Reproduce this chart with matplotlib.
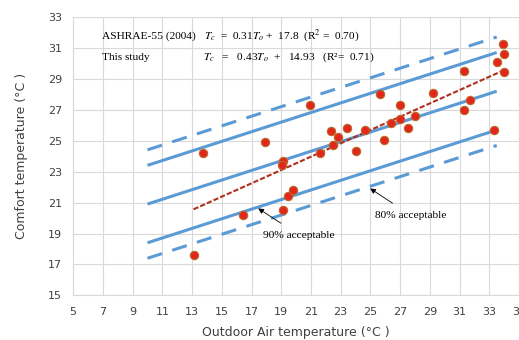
import numpy as np
import matplotlib
matplotlib.use("Agg")
import matplotlib.pyplot as plt

# observed points (outdoor air temp, comfort temp)
t_out = [13.13, 13.75, 16.40, 17.93, 19.10, 19.05, 19.12, 19.43, 19.81, 20.94,
         21.63, 22.33, 22.51, 22.82, 23.41, 24.01, 24.62, 25.63, 25.90, 26.41,
         27.02, 27.02, 27.51, 28.03, 29.24, 31.33, 31.33, 31.73, 33.33, 33.51,
         33.93, 34.02, 34.02]
t_comf = [17.58, 24.19, 20.19, 24.90, 23.70, 23.40, 20.49, 21.39, 21.78, 27.29,
          24.19, 25.59, 24.69, 25.20, 25.79, 24.30, 25.70, 28.00, 25.01, 26.11,
          26.41, 27.29, 25.79, 26.60, 28.09, 29.51, 26.99, 27.60, 25.70, 30.09,
          31.21, 30.59, 29.40]

# ASHRAE-55 adaptive model and bands
ash_slope, ash_icpt = 0.31, 17.8
ash_range = [10.0, 33.5]
band90 = 2.5
band80 = 3.5

# this study's regression
fit_slope, fit_icpt = 0.43, 14.93
fit_range = [13.1, 34.0]

x_ticks = list(range(5, 36, 2))
y_ticks = list(range(15, 34, 2))

fig = plt.figure(figsize=(5.19, 3.40), dpi=100)
ax = fig.add_axes([0.141, 0.131, 0.859, 0.82])

blue = "#5b9bd5"
xa = np.array(ash_range)
ya = ash_slope * xa + ash_icpt
ax.plot(xa, ya, color=blue, lw=2.2, solid_capstyle="butt")
ax.plot(xa, ya + band90, color=blue, lw=2.2, solid_capstyle="butt")
ax.plot(xa, ya - band90, color=blue, lw=2.2, solid_capstyle="butt")
ax.plot(xa, ya + band80, color=blue, lw=2.2, dashes=(5, 3.5))
ax.plot(xa, ya - band80, color=blue, lw=2.2, dashes=(5, 3.5))

xf = np.array(fit_range)
ax.plot(xf, fit_slope * xf + fit_icpt, color="#b0301c", lw=1.5, ls=(0, (2.5, 1)))

ax.scatter(t_out, t_comf, s=36, color="#e3261b", edgecolors="#b86a2a",
           linewidths=0.8, zorder=5)

serif = "Liberation Serif"
fs = 8.2
ax.text(6.95, 31.75, "ASHRAE-55 (2004)", family=serif, fontsize=fs, va="center")
ax.text(13.8, 31.75, r"$T_c$  =  0.31$T_o$ +  17.8  (R$^2$ =  0.70)",
        family=serif, fontsize=fs, va="center", math_fontfamily="stix")
ax.text(6.95, 30.37, "This study", family=serif, fontsize=fs, va="center")
ax.text(13.75, 30.37, r"$T_c$   =   0.43$T_o$  +   14.93   (R²=  0.71)",
        family=serif, fontsize=fs, va="center", math_fontfamily="stix")

ax.annotate("90% acceptable", xy=(17.45, 20.62), xytext=(17.8, 18.9),
            family=serif, fontsize=fs, va="center", ha="left",
            arrowprops=dict(arrowstyle="-|>", color="black", lw=0.6,
                            mutation_scale=8, shrinkA=6, shrinkB=0))
ax.annotate("80% acceptable", xy=(24.98, 21.91), xytext=(25.3, 20.19),
            family=serif, fontsize=fs, va="center", ha="left",
            arrowprops=dict(arrowstyle="-|>", color="black", lw=0.6,
                            mutation_scale=8, shrinkA=6, shrinkB=0))

ax.set_xlim(5, 35)
ax.set_ylim(15, 33)
ax.set_xticks(x_ticks)
ax.set_yticks(y_ticks)
ax.grid(True, color="#d9d9d9", lw=0.8)
ax.set_axisbelow(True)
for s in ax.spines.values():
    s.set_visible(False)
ax.spines["left"].set_visible(True)
ax.spines["bottom"].set_visible(True)
ax.spines["left"].set_color("#d9d9d9")
ax.spines["bottom"].set_color("#d9d9d9")
ax.tick_params(length=0, labelsize=8, colors="#404040", pad=8)
ax.set_xlabel("Outdoor Air temperature (°C )", fontsize=9, color="#404040",
              labelpad=7)
ax.set_ylabel("Comfort temperature (°C )", fontsize=9, color="#404040",
              labelpad=14)

fig.savefig("out.png", dpi=100)
